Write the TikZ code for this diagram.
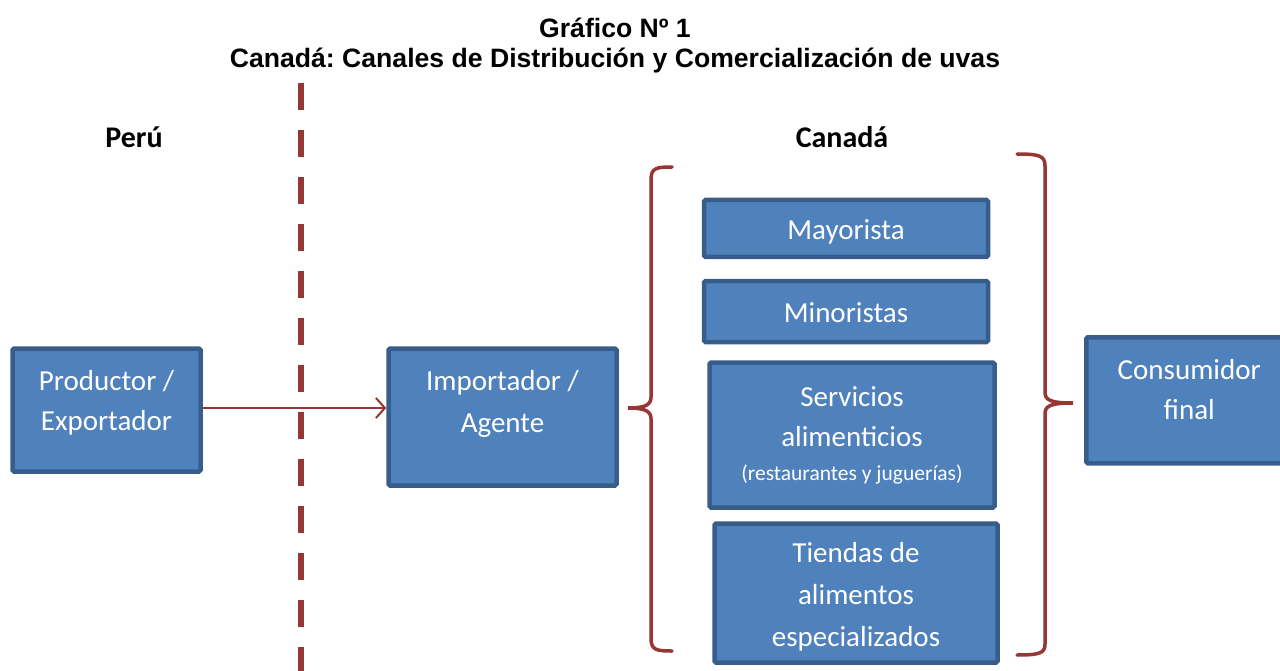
\documentclass[tikz,border=0pt]{standalone}
\usepackage{fontspec}
\setmainfont{Carlito}
\newfontfamily\titlefont{Liberation Sans}
\usepackage{tikz}
\usetikzlibrary{positioning, arrows.meta}
\frenchspacing

\definecolor{boxfill}{RGB}{79,129,189}
\definecolor{boxline}{RGB}{56,93,138}
\definecolor{linered}{RGB}{149,55,53}

\tikzset{
	box/.style={draw=boxline, fill=boxfill, line width=4.5pt, rounded corners=1.5pt,
		text=white, align=center, inner sep=0pt,
		font=\fontsize{29}{40}\selectfont},
	boxtext/.style={text=white, align=center, inner sep=0pt, font=\fontsize{29}{40}\selectfont},
	country/.style={font=\fontsize{30}{34}\selectfont\bfseries},
	bracket/.style={draw=linered, line width=3.5pt, line cap=round},
}

\begin{document}
\begin{tikzpicture}[x=1pt, y=-1pt]
	\useasboundingbox (0,0) rectangle (1280,671);
	% title
	\node[font=\titlefont\fontsize{26.6}{30}\selectfont\bfseries, align=center] (title) at (615,46)
		{Gráfico Nº 1\\Canadá: Canales de Distribución y Comercialización de uvas};
	\node[country] (peru) at (134,137) {Perú};
	\node[country] (canada) at (842,137) {Canadá};
	% border between countries
	\draw[linered, line width=6pt, dash pattern=on 27pt off 20pt] (301,83) -- (301,680);
	% boxes
	\node[box, minimum width=188pt, minimum height=123pt] (prod) at (106.5,410) {};
	\node[boxtext] at ([yshift=7pt]prod.center) {Productor /\\Exportador};
	\node[box, minimum width=228pt, minimum height=137pt] (imp) at (502.5,417) {};
	\node[boxtext, font=\fontsize{29}{42}\selectfont] at ([yshift=13pt]imp.center) {Importador /\\Agente};
	\node[box, minimum width=284pt, minimum height=57pt, text height=22pt, text depth=0pt] (may) at (846,228.5) {Mayorista};
	\node[box, minimum width=284pt, minimum height=61pt, text height=22pt, text depth=0pt] (min) at (846,311.5) {Minoristas};
	\node[box, minimum width=285pt, minimum height=145pt] (serv) at (852,435)
		{Servicios\\alimenticios\\[-6pt]{\fontsize{21.5}{26}\selectfont (restaurantes y juguerías)}};
	\node[box, minimum width=283pt, minimum height=139pt] (tiend) at (856,593) {};
	\node[boxtext, font=\fontsize{29}{42}\selectfont] at ([yshift=-4pt]tiend.center)
		{Tiendas de\\alimentos\\especializados};
	\node[box, minimum width=200pt, minimum height=126pt, anchor=north west] (cons) at (1084,335) {};
	\node[boxtext] at ([yshift=11pt, xshift=3pt]cons.center) {Consumidor\\final};
	% arrow
	\draw[linered, line width=2pt, -{Straight Barb[length=9pt, width=20pt, line width=2pt]}]
		([yshift=2pt]prod.east) -- ([yshift=2pt]prod.east -| imp.west);
	% braces
	\draw[bracket] (672,167) .. controls (656,167) and (651,168) .. (651,180) -- (651,397)
		.. controls (651,405) and (645,408) .. (628,408)
		.. controls (645,408) and (651,411) .. (651,419) -- (651,638)
		.. controls (651,650) and (656,651) .. (672,651);
	\draw[bracket] (1017,154) .. controls (1040,154) and (1045,156) .. (1045,166) -- (1045,392)
		.. controls (1045,400) and (1050,403) .. (1073,403)
		.. controls (1050,403) and (1045,406) .. (1045,414) -- (1045,644)
		.. controls (1045,653) and (1040,655) .. (1017,655);
\end{tikzpicture}
\end{document}
